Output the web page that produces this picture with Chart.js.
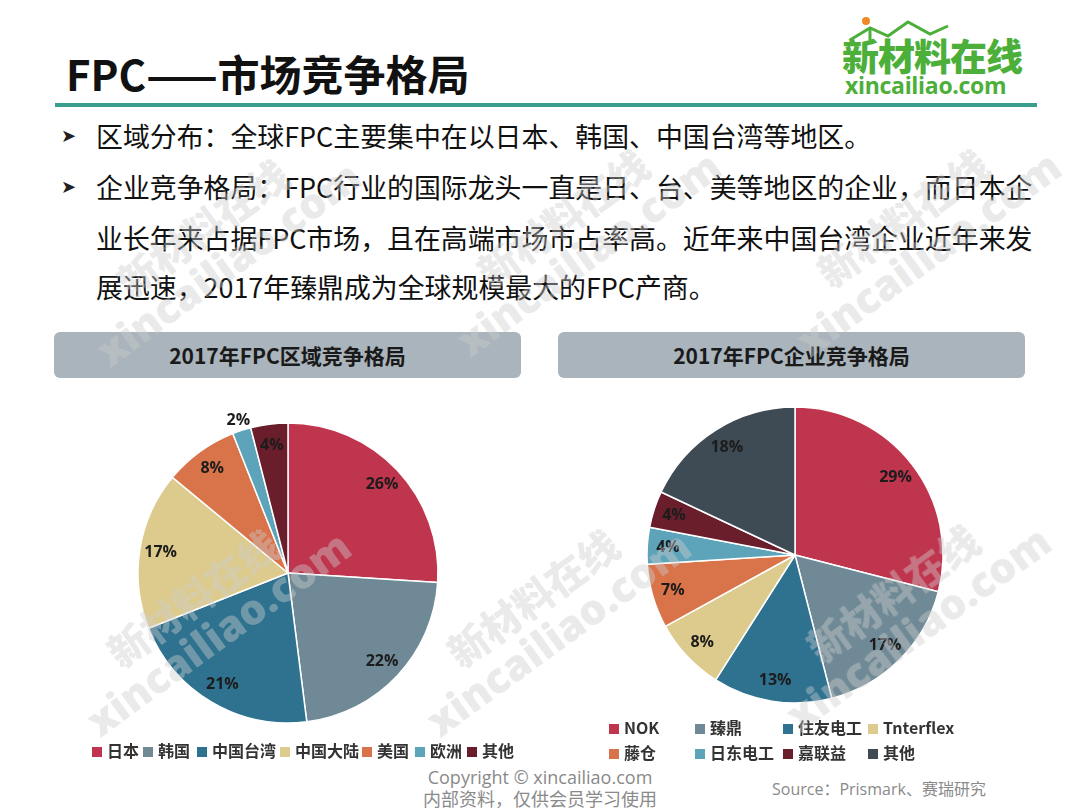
<!DOCTYPE html>
<html><head><meta charset="utf-8">
<script src="https://cdn.jsdelivr.net/npm/chart.js@4.4.1/dist/chart.umd.min.js"></script>
<style>
html,body{margin:0;padding:0;background:#fff;}
body{width:1080px;height:810px;position:relative;overflow:hidden;font-family:"Noto Sans CJK SC","Noto Sans",sans-serif;}
.abs{position:absolute;}
.title{left:66px;top:42px;font-size:42px;font-weight:700;color:#111;white-space:nowrap;letter-spacing:0px;}
.rule{left:55px;top:103px;width:982px;height:4px;background:#3a9e8f;}
.logo1{left:842px;top:28px;font-size:37px;font-weight:900;color:#4caf3a;white-space:nowrap;letter-spacing:-1px;}
.logo2{left:845px;top:69px;font-size:23px;font-weight:700;color:#4caf3a;white-space:nowrap;font-family:"Open Sans","Noto Sans",sans-serif;letter-spacing:-0.3px;}
.bl{left:96px;font-size:26.9px;color:#111;white-space:nowrap;line-height:34px;}
.arrow{left:61px;font-size:18px;color:#222;font-family:"DejaVu Sans";line-height:34px;}
.hdr{top:332px;height:46px;background:#a9b4bc;border-radius:6px;text-align:center;line-height:46px;font-size:21px;font-weight:700;color:#1a1a1a;}
.leg{font-size:16px;font-weight:700;color:#333;white-space:nowrap;line-height:20px;}
.sq{display:inline-block;width:10px;height:10px;margin-right:5px;vertical-align:0px;}
.foot{color:#8a8a8a;font-family:"Open Sans","Noto Sans CJK SC",sans-serif;white-space:nowrap;}
.wm{position:absolute;transform:rotate(-36deg);transform-origin:center;color:rgba(205,205,205,0.42);font-weight:900;text-align:center;line-height:44px;pointer-events:none;white-space:nowrap;z-index:10;}
.wm .a{font-size:40px;font-family:"Noto Sans CJK SC";}
.wm .b{font-size:42px;font-family:"Open Sans","Noto Sans",sans-serif;}
</style></head>
<body>
<div class="abs title">FPC——市场竞争格局</div>
<div class="abs rule"></div>
<svg class="abs" style="left:848px;top:12px" width="120" height="30" viewBox="0 0 120 30">
  <circle cx="18" cy="9" r="4" fill="#f08a24"/>
  <polyline points="2,28 22,16 40,24 60,10 82,22 100,14" fill="none" stroke="#4caf3a" stroke-width="3"/>
  <polyline points="22,16 22,28" fill="none" stroke="#4caf3a" stroke-width="3"/>
</svg>
<div class="abs logo1">新材料在线</div>
<div class="abs logo2">xincailiao.com</div>

<div class="abs arrow" style="top:119px">➤</div>
<div class="abs bl" style="top:119px">区域分布：全球FPC主要集中在以日本、韩国、中国台湾等地区。</div>
<div class="abs arrow" style="top:170px">➤</div>
<div class="abs bl" style="top:170px">企业竞争格局：FPC行业的国际龙头一直是日、台、美等地区的企业，而日本企</div>
<div class="abs bl" style="top:221px">业长年来占据FPC市场，且在高端市场市占率高。近年来中国台湾企业近年来发</div>
<div class="abs bl" style="top:270px">展迅速，2017年臻鼎成为全球规模最大的FPC产商。</div>

<div class="abs hdr" style="left:54px;width:467px" id="h1"></div>
<div class="abs hdr" style="left:558px;width:467px" id="h2"></div>

<div class="abs" style="left:118px;top:403px;width:340px;height:340px"><canvas id="c1"></canvas></div>
<div class="abs" style="left:625px;top:385px;width:340px;height:340px"><canvas id="c2"></canvas></div>

<div id="leg1"></div>
<div id="leg2"></div>

<div class="abs foot" style="left:0;width:1080px;text-align:center;top:766px;font-size:18px;line-height:22px">Copyright © xincailiao.com<br>内部资料，仅供会员学习使用</div>
<div class="abs foot" style="left:772px;top:778px;font-size:16px;line-height:22px">Source：Prismark、赛瑞研究</div>

<div id="wms"></div>

<script>
const title1 = "2017年FPC区域竞争格局";
const title2 = "2017年FPC企业竞争格局";
const regionLabels = ["日本","韩国","中国台湾","中国大陆","美国","欧洲","其他"];
const regionValues = [26,22,21,17,8,2,4];
const regionColors = ["#c0354e","#6f8a96","#2e7290","#dccb8c","#d8734a","#5da3ba","#6a1e2c"];
const companyLabels = ["NOK","臻鼎","住友电工","Tnterflex","藤仓","日东电工","嘉联益","其他"];
const companyValues = [29,17,13,8,7,4,4,18];
const companyColors = ["#c0354e","#6f8a96","#2e7290","#dccb8c","#d8734a","#5da3ba","#6a1e2c","#3e4a54"];

document.getElementById('h1').textContent = title1;
document.getElementById('h2').textContent = title2;

const labelPlugin = {
  id:'pctLabels',
  afterDatasetsDraw(chart){
    const ctx = chart.ctx;
    const meta = chart.getDatasetMeta(0);
    const data = chart.data.datasets[0].data;
    ctx.save();
    ctx.font = "700 16px 'Open Sans','Noto Sans',sans-serif";
    ctx.fillStyle = "#1c1c1c";
    ctx.textAlign = "center";
    ctx.textBaseline = "middle";
    meta.data.forEach((arc,i)=>{
      const p = arc.getProps(['x','y','startAngle','endAngle','outerRadius'],true);
      const mid = (p.startAngle+p.endAngle)/2;
      const f = data[i] < 3 ? 1.07 : 0.86;
      const r = p.outerRadius*f;
      ctx.fillText(data[i]+"%", p.x+Math.cos(mid)*r, p.y+Math.sin(mid)*r);
    });
    ctx.restore();
  }
};

function makePie(id, labels, values, colors, radius){
  new Chart(document.getElementById(id), {
    type:'pie',
    data:{labels:labels, datasets:[{data:values, backgroundColor:colors, borderColor:'#ffffff', borderWidth:1.5, hoverOffset:0, radius:radius}]},
    options:{responsive:true, maintainAspectRatio:false, animation:false,
      layout:{padding:0},
      plugins:{legend:{display:false}, tooltip:{enabled:false}}},
    plugins:[labelPlugin]
  });
}
makePie('c1', regionLabels, regionValues, regionColors, 150);
makePie('c2', companyLabels, companyValues, companyColors, 148);

// legends
const leg1X = [92,143,197,280,362,415,467];
regionLabels.forEach((l,i)=>{
  const d = document.createElement('div');
  d.className='abs leg';
  d.style.left = leg1X[i]+'px'; d.style.top='740px';
  d.innerHTML = '<span class="sq" style="background:'+regionColors[i]+'"></span>'+l;
  document.getElementById('leg1').appendChild(d);
});
const leg2X = [609,695,783,868];
companyLabels.forEach((l,i)=>{
  const d = document.createElement('div');
  d.className='abs leg';
  d.style.left = leg2X[i%4]+'px'; d.style.top=(i<4?717:742)+'px';
  d.innerHTML = '<span class="sq" style="background:'+companyColors[i]+'"></span>'+l;
  document.getElementById('leg2').appendChild(d);
});

// watermarks
const wmPos = [[215,245],[575,235],[915,235],[205,615],[545,615],[905,610]];
wmPos.forEach(p=>{
  const w = document.createElement('div');
  w.className='wm';
  w.style.left=(p[0]-170)+'px'; w.style.top=(p[1]-44)+'px'; w.style.width='340px';
  w.innerHTML='<div class="a">新材料在线</div><div class="b">xincailiao.com</div>';
  document.getElementById('wms').appendChild(w);
});
</script>
</body></html>
